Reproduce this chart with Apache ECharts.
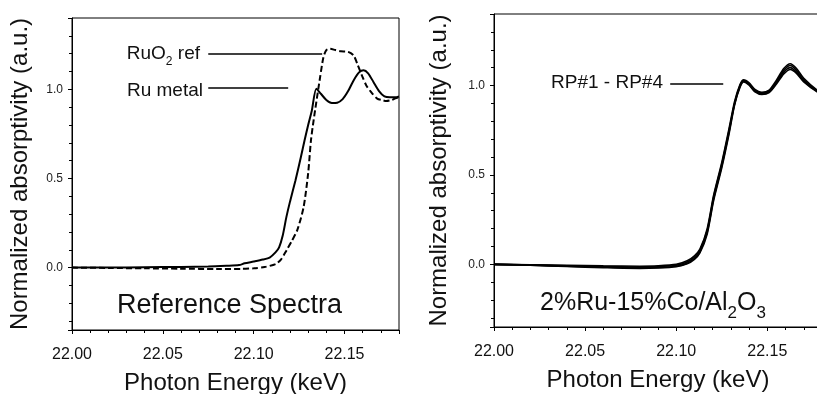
<!DOCTYPE html>
<html>
<head>
<meta charset="utf-8">
<script src="https://cdn.jsdelivr.net/npm/echarts@6/dist/echarts.min.js"></script>
<style>
  html, body { margin: 0; padding: 0; background: #fff; }
  #chart { width: 817px; height: 394px; }
</style>
</head>
<body>
<div id="chart"></div>
<script>
// left panel: reference spectra
var ruMetalX = [22.000, 22.020, 22.040, 22.060, 22.075, 22.085, 22.092, 22.095, 22.100, 22.105, 22.109, 22.112, 22.114, 22.116, 22.118, 22.120, 22.123, 22.126, 22.128, 22.130, 22.132, 22.1345, 22.137, 22.140, 22.143, 22.146, 22.149, 22.152, 22.155, 22.158, 22.1605, 22.163, 22.166, 22.169, 22.172, 22.175, 22.178, 22.180];
var ruMetalY = [0.000, 0.000, 0.002, 0.004, 0.006, 0.010, 0.014, 0.024, 0.034, 0.045, 0.058, 0.085, 0.114, 0.180, 0.283, 0.370, 0.489, 0.620, 0.713, 0.800, 0.880, 1.003, 0.975, 0.940, 0.923, 0.925, 0.945, 0.990, 1.050, 1.095, 1.107, 1.090, 1.040, 0.990, 0.960, 0.955, 0.955, 0.960];

var ruO2X = [22.000, 22.020, 22.040, 22.060, 22.080, 22.094, 22.100, 22.106, 22.112, 22.115, 22.118, 22.121, 22.124, 22.1275, 22.130, 22.1315, 22.133, 22.1366, 22.1384, 22.140, 22.142, 22.145, 22.148, 22.152, 22.155, 22.157, 22.1595, 22.162, 22.165, 22.168, 22.1705, 22.173, 22.176, 22.178, 22.180];
var ruO2Y = [0.000, -0.002, -0.004, -0.006, -0.008, -0.007, -0.004, 0.003, 0.020, 0.045, 0.095, 0.150, 0.210, 0.340, 0.530, 0.710, 0.826, 1.070, 1.180, 1.220, 1.228, 1.220, 1.213, 1.210, 1.190, 1.144, 1.080, 1.022, 0.980, 0.948, 0.940, 0.934, 0.940, 0.950, 0.955];

// right panel: 2%Ru-15%Co/Al2O3, RP#1 - RP#4
var rpX = [22.000, 22.020, 22.040, 22.060, 22.080, 22.090, 22.100, 22.106, 22.110, 22.113, 22.117, 22.1205, 22.125, 22.129, 22.132, 22.135, 22.137, 22.140, 22.143, 22.147, 22.151, 22.155, 22.159, 22.1626, 22.166, 22.170, 22.1773, 22.180];
var rp1Y = [0.000, -0.002, -0.005, -0.008, -0.010, -0.008, 0.000, 0.020, 0.048, 0.085, 0.200, 0.385, 0.570, 0.760, 0.910, 1.005, 1.032, 1.015, 0.980, 0.962, 0.975, 1.030, 1.095, 1.122, 1.095, 1.040, 0.975, 0.968];
var rp2Y = [0.000, -0.003, -0.008, -0.012, -0.015, -0.013, -0.005, 0.013, 0.040, 0.078, 0.190, 0.376, 0.560, 0.750, 0.900, 1.000, 1.028, 1.010, 0.975, 0.957, 0.970, 1.020, 1.085, 1.112, 1.085, 1.030, 0.972, 0.965];
var rp3Y = [0.000, -0.004, -0.010, -0.015, -0.019, -0.017, -0.010, 0.007, 0.033, 0.070, 0.180, 0.365, 0.550, 0.740, 0.895, 0.995, 1.024, 1.006, 0.970, 0.953, 0.965, 1.015, 1.075, 1.100, 1.075, 1.025, 0.968, 0.962];
var rp4Y = [0.000, -0.005, -0.012, -0.018, -0.022, -0.020, -0.013, 0.003, 0.028, 0.064, 0.170, 0.355, 0.540, 0.730, 0.890, 0.990, 1.020, 1.002, 0.966, 0.950, 0.960, 1.008, 1.065, 1.090, 1.068, 1.020, 0.965, 0.960];

var yLabels = [0, 0.5, 1];
var font = "'Liberation Sans', Arial, sans-serif";

function pairs(xs, ys) {
    return xs.map(function (x, i) { return [x, ys[i]]; });
}

function xAxisOf(idx) {
    return {
        gridIndex: idx, type: 'value', min: 22.00, max: 22.18, interval: 0.05,
        name: 'Photon Energy (keV)', nameLocation: 'middle', nameGap: 41,
        nameTextStyle: { fontFamily: font, fontSize: 24, color: '#111' },
        axisLine: { onZero: false, lineStyle: { color: '#000', width: 1 } },
        axisTick: { show: true, inside: false, length: 4, lineStyle: { color: '#000' } },
        minorTick: { show: true, splitNumber: 5, length: 3, lineStyle: { color: '#000' } },
        axisLabel: {
            fontFamily: font, fontSize: 16, color: '#111', margin: 17, showMaxLabel: false,
            formatter: function (v) { return v.toFixed(2); }
        },
        splitLine: { show: false }
    };
}

function yAxisOf(idx, gap) {
    return {
        gridIndex: idx, type: 'value', min: -0.35, max: 1.4, splitNumber: 3,
        name: 'Normalized absorptivity (a.u.)', nameLocation: 'middle', nameGap: gap,
        nameTextStyle: { fontFamily: font, fontSize: 24, color: '#111' },
        axisLine: { show: true, onZero: false, lineStyle: { color: '#000', width: 1 } },
        axisTick: { show: true, inside: false, length: 4, lineStyle: { color: '#000' } },
        minorTick: { show: true, splitNumber: 5, length: 3, lineStyle: { color: '#000' } },
        axisLabel: {
            fontFamily: font, fontSize: 12, color: '#222', margin: 9,
            formatter: function (v) {
                return yLabels.indexOf(Math.round(v * 100) / 100) >= 0 ? v.toFixed(1) : '';
            }
        },
        splitLine: { show: false }
    };
}

function curve(name, xi, data, dashed, w) {
    return {
        name: name, type: 'line', xAxisIndex: xi, yAxisIndex: xi,
        data: data, smooth: 0.25, symbol: 'none', silent: true,
        lineStyle: { color: '#000', width: w, type: dashed ? [6, 3] : 'solid' }
    };
}

function leader(xi, x0, x1, y) {
    return {
        type: 'line', xAxisIndex: xi, yAxisIndex: xi, data: [], silent: true,
        markLine: {
            symbol: 'none', silent: true, label: { show: false },
            lineStyle: { color: '#000', width: 1.5, type: 'solid' },
            data: [[{ coord: [x0, y] }, { coord: [x1, y] }]]
        }
    };
}

var chart = echarts.init(document.getElementById('chart'));
var option = {
    animation: false,
    backgroundColor: '#fff',
    grid: [
        { left: 72, top: 18, width: 327, height: 312, show: true, borderColor: '#000', borderWidth: 1,
          containLabel: false, outerBoundsMode: 'none' },
        { left: 494, top: 14, width: 328, height: 313, show: true, borderColor: '#000', borderWidth: 1,
          containLabel: false, outerBoundsMode: 'none' }
    ],
    xAxis: [xAxisOf(0), xAxisOf(1)],
    yAxis: [yAxisOf(0, 40), yAxisOf(1, 43)],
    series: [
        curve('Ru metal', 0, pairs(ruMetalX, ruMetalY), false, 2),
        curve('RuO2 ref', 0, pairs(ruO2X, ruO2Y), true, 2),
        curve('RP#1', 1, pairs(rpX, rp1Y), false, 1.6),
        curve('RP#2', 1, pairs(rpX, rp2Y), false, 1.6),
        curve('RP#3', 1, pairs(rpX, rp3Y), false, 1.6),
        curve('RP#4', 1, pairs(rpX, rp4Y), false, 1.6),
        leader(0, 22.075, 22.1377, 1.202),
        leader(0, 22.075, 22.119, 1.006),
        leader(1, 22.0967, 22.1258, 1.011)
    ],
    graphic: [
        {
            type: 'text', right: 817 - 200, top: 44,
            style: {
                text: '{a|RuO}{s|2}{a| ref}', fill: '#111',
                rich: {
                    a: { fontFamily: font, fontSize: 19, lineHeight: 24, verticalAlign: 'top' },
                    s: { fontFamily: font, fontSize: 12, lineHeight: 14, padding: [12, 0, 0, 0] }
                }
            }
        },
        { type: 'text', right: 817 - 203, top: 81, style: { text: 'Ru metal', fontFamily: font, fontSize: 19, fill: '#111' } },
        { type: 'text', left: 117, top: 292, style: { text: 'Reference Spectra', fontFamily: font, fontSize: 27, fill: '#111' } },
        { type: 'text', right: 817 - 663, top: 73, style: { text: 'RP#1 - RP#4', fontFamily: font, fontSize: 19, fill: '#111' } },
        {
            type: 'text', left: 540, top: 289,
            style: {
                text: '{a|2%Ru-15%Co/Al}{s|2}{a|O}{s|3}', fill: '#111',
                rich: {
                    a: { fontFamily: font, fontSize: 25, lineHeight: 30, verticalAlign: 'top' },
                    s: { fontFamily: font, fontSize: 17, lineHeight: 18, padding: [16, 0, 0, 0] }
                }
            }
        }
    ]
};
chart.setOption(option);
</script>
</body>
</html>
